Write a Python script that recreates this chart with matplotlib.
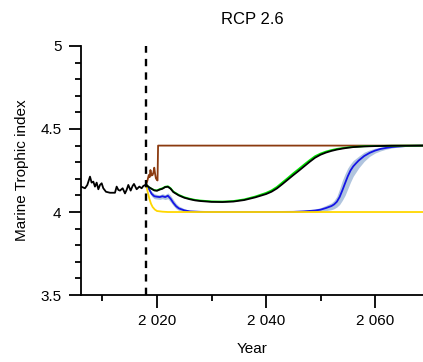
import matplotlib
matplotlib.use("Agg")
import matplotlib.pyplot as plt
from matplotlib.ticker import FuncFormatter, MultipleLocator

plt.rcParams['font.family'] = ['Liberation Sans', 'DejaVu Sans']

# historical trophic index (black, before the dashed line)
hist_years = [2006.06, 2006.79, 2007.22, 2007.71, 2008.01, 2008.32, 2008.62, 2008.93,
              2009.24, 2009.54, 2009.85, 2010.15, 2010.64, 2011.38, 2012.29, 2012.60,
              2012.91, 2013.21, 2013.70, 2014.13, 2014.43, 2014.74, 2015.17, 2015.53,
              2015.78, 2016.27, 2016.76, 2017.19, 2017.49, 2018.0]
hist_vals = [4.153, 4.143, 4.163, 4.213, 4.177, 4.183, 4.153, 4.177,
             4.137, 4.163, 4.173, 4.143, 4.122, 4.116, 4.116, 4.153,
             4.133, 4.129, 4.143, 4.112, 4.133, 4.163, 4.129, 4.157,
             4.169, 4.137, 4.153, 4.143, 4.157, 4.165]

# projections
proj_years = [2018.0, 2018.5, 2019.0, 2019.5, 2020.0, 2020.5, 2021.0, 2021.5, 2022.0, 2022.5,
              2023, 2024, 2025, 2026, 2027, 2028, 2030, 2032, 2034, 2036,
              2038, 2040, 2041, 2042, 2043, 2044, 2045, 2046, 2047, 2048,
              2049, 2050, 2051, 2052, 2053, 2054, 2055, 2056, 2058, 2060,
              2063, 2069]
black_vals = [4.165, 4.15, 4.14, 4.13, 4.128, 4.135, 4.14, 4.15, 4.152, 4.14,
              4.12, 4.10, 4.086, 4.077, 4.070, 4.066, 4.061, 4.060, 4.063, 4.072,
              4.088, 4.108, 4.122, 4.142, 4.168, 4.195, 4.222, 4.248, 4.275, 4.302,
              4.327, 4.345, 4.358, 4.368, 4.376, 4.382, 4.387, 4.391, 4.395, 4.397,
              4.399, 4.4]
green_vals = [4.165, 4.15, 4.14, 4.132, 4.13, 4.138, 4.143, 4.152, 4.155, 4.143,
              4.123, 4.103, 4.089, 4.080, 4.073, 4.069, 4.064, 4.063, 4.066, 4.076,
              4.093, 4.115, 4.130, 4.151, 4.178, 4.205, 4.233, 4.259, 4.286, 4.312,
              4.336, 4.352, 4.364, 4.373, 4.380, 4.385, 4.389, 4.392, 4.396, 4.398,
              4.399, 4.4]

blue_years = [2018.0, 2018.5, 2019.0, 2019.5, 2020.0, 2020.5, 2021.0, 2021.5, 2022.0, 2022.5,
              2023.0, 2023.5, 2024.0, 2025.0, 2026.0, 2028.0, 2030.0, 2040.0, 2045.0, 2047.0,
              2049.0, 2050.0, 2051.0, 2052.0, 2052.5, 2053.0, 2053.5, 2054.0, 2054.5, 2055.0,
              2055.5, 2056.0, 2056.5, 2057.0, 2058.0, 2059.0, 2060.0, 2061.0, 2062.0, 2063.0,
              2064.0, 2066.0, 2069.0]
blue_vals = [4.165, 4.14, 4.11, 4.095, 4.092, 4.09, 4.095, 4.09, 4.098, 4.08,
             4.055, 4.035, 4.022, 4.01, 4.004, 4.001, 4.0, 4.0, 4.001, 4.004,
             4.009, 4.014, 4.024, 4.036, 4.046, 4.062, 4.09, 4.13, 4.173, 4.215,
             4.25, 4.275, 4.293, 4.31, 4.337, 4.356, 4.37, 4.38, 4.386, 4.391,
             4.394, 4.398, 4.4]
blue_lo = [4.165, 4.13, 4.095, 4.08, 4.078, 4.076, 4.08, 4.075, 4.08, 4.06,
           4.038, 4.02, 4.01, 4.004, 4.001, 4.0, 4.0, 4.0, 3.999, 4.0,
           4.001, 4.003, 4.008, 4.014, 4.02, 4.03, 4.045, 4.07, 4.10, 4.14,
           4.18, 4.215, 4.24, 4.265, 4.305, 4.335, 4.355, 4.368, 4.378, 4.385,
           4.39, 4.396, 4.4]
blue_hi = [4.165, 4.15, 4.125, 4.11, 4.106, 4.104, 4.11, 4.105, 4.115, 4.1,
           4.075, 4.052, 4.036, 4.02, 4.009, 4.003, 4.001, 4.001, 4.004, 4.01,
           4.018, 4.026, 4.04, 4.055, 4.07, 4.095, 4.14, 4.19, 4.23, 4.265,
           4.29, 4.31, 4.323, 4.336, 4.36, 4.374, 4.384, 4.39, 4.394, 4.397,
           4.399, 4.4, 4.4]

yellow_years = [2018.0, 2018.3, 2018.6, 2018.9, 2019.2, 2019.6, 2020.0, 2021.0, 2022.0, 2069.0]
yellow_vals = [4.165, 4.12, 4.08, 4.05, 4.03, 4.015, 4.006, 4.002, 4.0, 4.0]

brown_years = [2018.0, 2018.25, 2018.5, 2018.65, 2018.8, 2019.0, 2019.2, 2019.35, 2019.5,
               2019.65, 2019.8, 2020.0, 2020.1, 2020.2, 2069.0]
brown_vals = [4.165, 4.19, 4.223, 4.21, 4.253, 4.22, 4.223, 4.24, 4.267,
              4.23, 4.203, 4.193, 4.19, 4.4, 4.4]

start_year = 2018

fig = plt.figure(figsize=(4.23, 3.62), dpi=100)
ax = fig.add_axes([0.1915, 0.185, 0.8085, 0.688])

ax.fill_between(blue_years, blue_lo, blue_hi, color='#b0c4de', lw=0)
ax.plot(blue_years, blue_vals, color='#1515e6', lw=1.3)
ax.plot(yellow_years, yellow_vals, color='#ffd700', lw=1.3)
ax.plot(brown_years, brown_vals, color='#8b3a0f', lw=1.3)
ax.plot(proj_years, green_vals, color='#00e000', lw=1.3)
ax.plot(proj_years, black_vals, color='black', lw=1.3)
ax.plot(hist_years, hist_vals, color='black', lw=1.3)
ax.axvline(start_year, color='black', lw=1.7, dashes=(3.1, 2.6))

ax.set_xlim(2006.06, 2068.8)
ax.set_ylim(3.5, 5)
ax.spines['top'].set_visible(False)
ax.spines['right'].set_visible(False)
ax.spines['left'].set_linewidth(1.3)
ax.spines['bottom'].set_linewidth(1.3)

ax.xaxis.set_major_locator(MultipleLocator(20))
ax.xaxis.set_minor_locator(MultipleLocator(10))
ax.yaxis.set_major_locator(MultipleLocator(0.5))
ax.yaxis.set_minor_locator(MultipleLocator(0.1))
ax.xaxis.set_major_formatter(FuncFormatter(lambda v, p: f"{v:,.0f}".replace(",", " ")))
ax.yaxis.set_major_formatter(FuncFormatter(lambda v, p: f"{v:g}"))
ax.tick_params(which='major', length=9, width=1.3, labelsize=11, pad=5)
ax.tick_params(which='minor', length=4.5, width=1.3)

ax.set_xlabel("Year", fontsize=11, labelpad=10)
ax.set_ylabel("Marine Trophic index", fontsize=11, labelpad=8)
ax.set_title("RCP 2.6", fontsize=12, pad=16)

fig.savefig("out.png", dpi=100)
